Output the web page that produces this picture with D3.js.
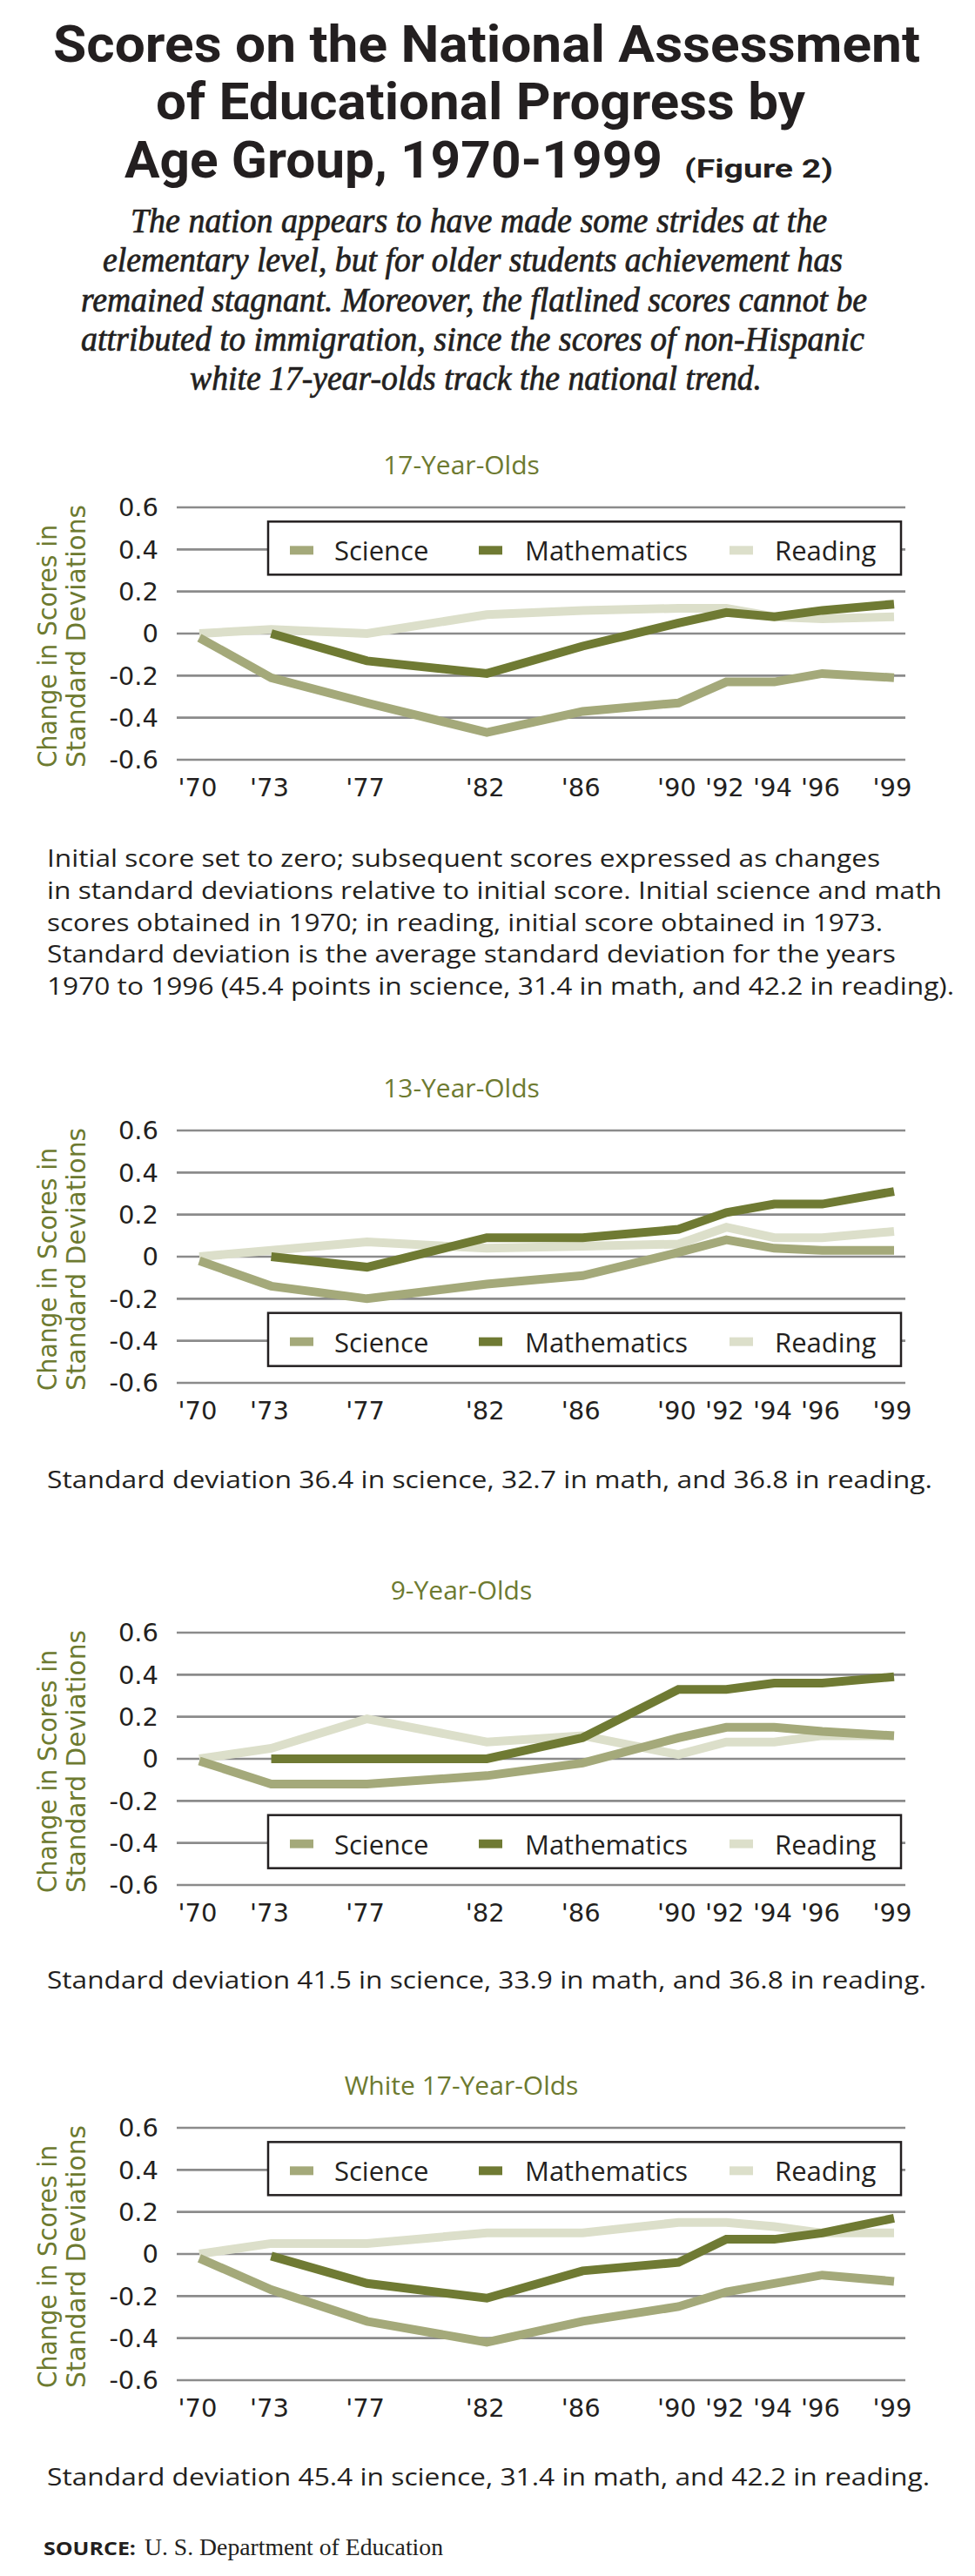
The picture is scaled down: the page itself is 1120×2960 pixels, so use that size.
<!DOCTYPE html>
<html><head><meta charset="utf-8">
<script src="https://cdn.jsdelivr.net/npm/d3@7"></script>
<style>body{margin:0;background:#fff;} svg{display:block;}</style>
</head><body>
<svg id="chart" width="1120" height="2960"></svg>
<script>
// ---------- DATA ----------
const years = [1970, 1973, 1977, 1982, 1986, 1990, 1992, 1994, 1996, 1999];
const yearLabels = ["'70", "'73", "'77", "'82", "'86", "'90", "'92", "'94", "'96", "'99"];
const yTicks = [0.6, 0.4, 0.2, 0, -0.2, -0.4, -0.6];
const yTickLabels = ["0.6", "0.4", "0.2", "0", "-0.2", "-0.4", "-0.6"];
const seriesNames = ["Science", "Mathematics", "Reading"];
const panelTitles = ["17-Year-Olds", "13-Year-Olds", "9-Year-Olds", "White 17-Year-Olds"];

const science17 = [-0.02, -0.21, -0.33, -0.47, -0.37, -0.33, -0.23, -0.23, -0.19, -0.21];
const math17    = [null, 0.00, -0.13, -0.19, -0.06, 0.05, 0.10, 0.08, 0.11, 0.14];
const reading17 = [0.00, 0.02, 0.00, 0.09, 0.11, 0.12, 0.12, 0.08, 0.07, 0.08];

const science13 = [-0.02, -0.14, -0.20, -0.13, -0.09, 0.02, 0.08, 0.04, 0.03, 0.03];
const math13    = [null, 0.00, -0.05, 0.09, 0.09, 0.13, 0.21, 0.25, 0.25, 0.31];
const reading13 = [0.00, 0.03, 0.07, 0.04, 0.05, 0.06, 0.14, 0.09, 0.09, 0.12];

const science9 = [-0.01, -0.12, -0.12, -0.08, -0.02, 0.10, 0.15, 0.15, 0.13, 0.11];
const math9    = [null, 0.00, 0.00, 0.00, 0.10, 0.33, 0.33, 0.36, 0.36, 0.39];
const reading9 = [0.00, 0.05, 0.19, 0.08, 0.11, 0.02, 0.08, 0.08, 0.11, 0.11];

const scienceW17 = [-0.02, -0.17, -0.32, -0.42, -0.32, -0.25, -0.18, -0.14, -0.10, -0.13];
const mathW17    = [null, -0.01, -0.14, -0.21, -0.08, -0.04, 0.07, 0.07, 0.10, 0.17];
const readingW17 = [0.00, 0.05, 0.05, 0.10, 0.10, 0.15, 0.15, 0.13, 0.10, 0.10];

const titleLines = ["Scores on the National Assessment", "of Educational Progress by", "Age Group, 1970-1999"];
const titleSuffix = "(Figure 2)";
const subtitleLines = [
  "The nation appears to have made some strides at the",
  "elementary level, but for older students achievement has",
  "remained stagnant. Moreover, the flatlined scores cannot be",
  "attributed to immigration, since the scores of non-Hispanic",
  "white 17-year-olds track the national trend."
];
const notes17 = [
  "Initial score set to zero; subsequent scores expressed as changes",
  "in standard deviations relative to initial score. Initial science and math",
  "scores obtained in 1970; in reading, initial score obtained in 1973.",
  "Standard deviation is the average standard deviation for the years",
  "1970 to 1996 (45.4 points in science, 31.4 in math, and 42.2 in reading)."
];
const notes13 = ["Standard deviation 36.4 in science, 32.7 in math, and 36.8 in reading."];
const notes9 = ["Standard deviation 41.5 in science, 33.9 in math, and 36.8 in reading."];
const notesW17 = ["Standard deviation 45.4 in science, 31.4 in math, and 42.2 in reading."];
const sourceLabel = "SOURCE:";
const sourceText = "U. S. Department of Education";
const yAxisTitle = ["Change in Scores in", "Standard Deviations"];

// ---------- STYLE / LAYOUT ----------
const colors = { Science: "#a4a97a", Mathematics: "#6f7a33", Reading: "#dcdfca" };
const olive = "#6d7a30";
const ink = "#231f20";
const svg = d3.select("#chart");

// Title
const titleG = svg.append("g").attr("font-family", "Roboto, 'Open Sans', sans-serif").attr("font-weight", 700).attr("fill", ink);
const titleLayout = [{x: 61, y: 71, w: 996}, {x: 179, y: 137, w: 746}, {x: 143, y: 204, w: 618}];
titleLines.forEach((t, i) => {
  titleG.append("text").attr("x", titleLayout[i].x).attr("y", titleLayout[i].y)
    .attr("font-size", 59).attr("textLength", titleLayout[i].w).attr("lengthAdjust", "spacingAndGlyphs").text(t);
});
titleG.append("text").attr("x", 786).attr("y", 204).attr("font-size", 30)
  .attr("textLength", 171).attr("lengthAdjust", "spacingAndGlyphs").text(titleSuffix);

// Subtitle
const subLayout = [{x:150,y:267,w:800},{x:118,y:312,w:850},{x:93,y:358,w:903},{x:93,y:403,w:900},{x:218,y:448,w:657}];
const subG = svg.append("g").attr("font-family", "'Liberation Serif', serif").attr("font-style", "italic")
  .attr("fill", ink).attr("stroke", ink).attr("stroke-width", 0.7);
subtitleLines.forEach((t, i) => {
  subG.append("text").attr("x", subLayout[i].x).attr("y", subLayout[i].y).attr("font-size", 39)
    .attr("textLength", subLayout[i].w).attr("lengthAdjust", "spacingAndGlyphs").text(t);
});

// Panels
const x = d3.scaleLinear().domain([1970, 1999]).range([229, 1027]);
const panels = [
  { title: panelTitles[0], top: 583, legend: "top", sci: science17, math: math17, read: reading17,
    notes: notes17, noteY: 996, noteW: [957, 1028, 960, 975, 1042] },
  { title: panelTitles[1], top: 1299, legend: "bottom", sci: science13, math: math13, read: reading13,
    notes: notes13, noteY: 1710, noteW: [1017] },
  { title: panelTitles[2], top: 1876, legend: "bottom", sci: science9, math: math9, read: reading9,
    notes: notes9, noteY: 2285, noteW: [1010] },
  { title: panelTitles[3], top: 2445, legend: "top", sci: scienceW17, math: mathW17, read: readingW17,
    notes: notesW17, noteY: 2856, noteW: [1014] }
];

panels.forEach(p => {
  const g = svg.append("g");
  const y = d3.scaleLinear().domain([-0.6, 0.6]).range([p.top + 290, p.top]);

  // panel title
  g.append("text").attr("x", 530).attr("y", p.top - 38).attr("text-anchor", "middle")
    .attr("font-family", "'Open Sans', sans-serif").attr("font-weight", 500).attr("font-size", 30).attr("fill", olive).text(p.title);

  // gridlines
  g.append("g").selectAll("line").data(yTicks).join("line")
    .attr("x1", 203).attr("x2", 1040).attr("y1", d => y(d)).attr("y2", d => y(d))
    .attr("stroke", "#8b8b8b").attr("stroke-width", 2.6);

  // y tick labels
  g.append("g").selectAll("text").data(yTicks).join("text")
    .attr("x", 182).attr("y", d => y(d)).attr("dy", "0.36em").attr("text-anchor", "end")
    .attr("font-family", "'DejaVu Sans', sans-serif").attr("font-size", 29).attr("fill", ink)
    .text((d, i) => yTickLabels[i]);

  // x tick labels
  g.append("g").selectAll("text").data(years).join("text")
    .attr("x", d => x(d) - 2).attr("y", y(-0.6) + 42).attr("text-anchor", "middle")
    .attr("font-family", "'DejaVu Sans', sans-serif").attr("font-size", 29).attr("fill", ink)
    .text((d, i) => yearLabels[i]);

  // y axis title
  const bottom = y(-0.6) + 9;
  const axW = [279, 302];
  [65, 98].forEach((bx, i) => {
    g.append("text").attr("transform", `translate(${bx},${bottom}) rotate(-90)`)
      .attr("font-family", "'DejaVu Sans', sans-serif").attr("font-size", 29.5).attr("fill", olive)
      .attr("textLength", axW[i]).attr("lengthAdjust", "spacingAndGlyphs")
      .text(yAxisTitle[i]);
  });

  // lines
  const line = d3.line().defined(d => d[1] !== null).x(d => x(d[0])).y(d => y(d[1]));
  const series = [["Reading", p.read], ["Science", p.sci], ["Mathematics", p.math]];
  series.forEach(([name, vals]) => {
    g.append("path").datum(years.map((yr, i) => [yr, vals[i]]))
      .attr("d", line).attr("fill", "none").attr("stroke", colors[name])
      .attr("stroke-width", 10).attr("stroke-linejoin", "miter").attr("stroke-linecap", "butt");
  });

  // legend
  const ly = (p.legend === "top" ? y(0.4) : y(-0.4)) - 32;
  const lg = g.append("g").attr("transform", `translate(308,${ly})`);
  lg.append("rect").attr("width", 727).attr("height", 61).attr("fill", "#fff")
    .attr("stroke", ink).attr("stroke-width", 2.5);
  const swX = [25, 242, 530], txX = [76, 295, 582];
  seriesNames.forEach((n, i) => {
    lg.append("rect").attr("x", swX[i]).attr("y", 28).attr("width", 27).attr("height", 10).attr("fill", colors[n]);
    lg.append("text").attr("x", txX[i]).attr("y", 45).attr("font-family", "'Open Sans', sans-serif")
      .attr("font-size", 31).attr("fill", ink).text(n);
  });

  // notes
  p.notes.forEach((t, i) => {
    svg.append("text").attr("x", 54).attr("y", p.noteY + i * 36.8)
      .attr("font-family", "'Open Sans', sans-serif").attr("font-weight", 500).attr("font-size", 28).attr("fill", ink)
      .attr("textLength", p.noteW[i]).attr("lengthAdjust", "spacingAndGlyphs").text(t);
  });
});

// Source
svg.append("text").attr("x", 50).attr("y", 2936).attr("font-family", "'Open Sans', sans-serif")
  .attr("font-weight", 700).attr("font-size", 22).attr("fill", ink)
  .attr("textLength", 106).attr("lengthAdjust", "spacingAndGlyphs").text(sourceLabel);
svg.append("text").attr("x", 166).attr("y", 2936).attr("font-family", "'Liberation Serif', serif")
  .attr("font-size", 27).attr("fill", ink)
  .attr("textLength", 343).attr("lengthAdjust", "spacingAndGlyphs").text(sourceText);
</script>
</body></html>
